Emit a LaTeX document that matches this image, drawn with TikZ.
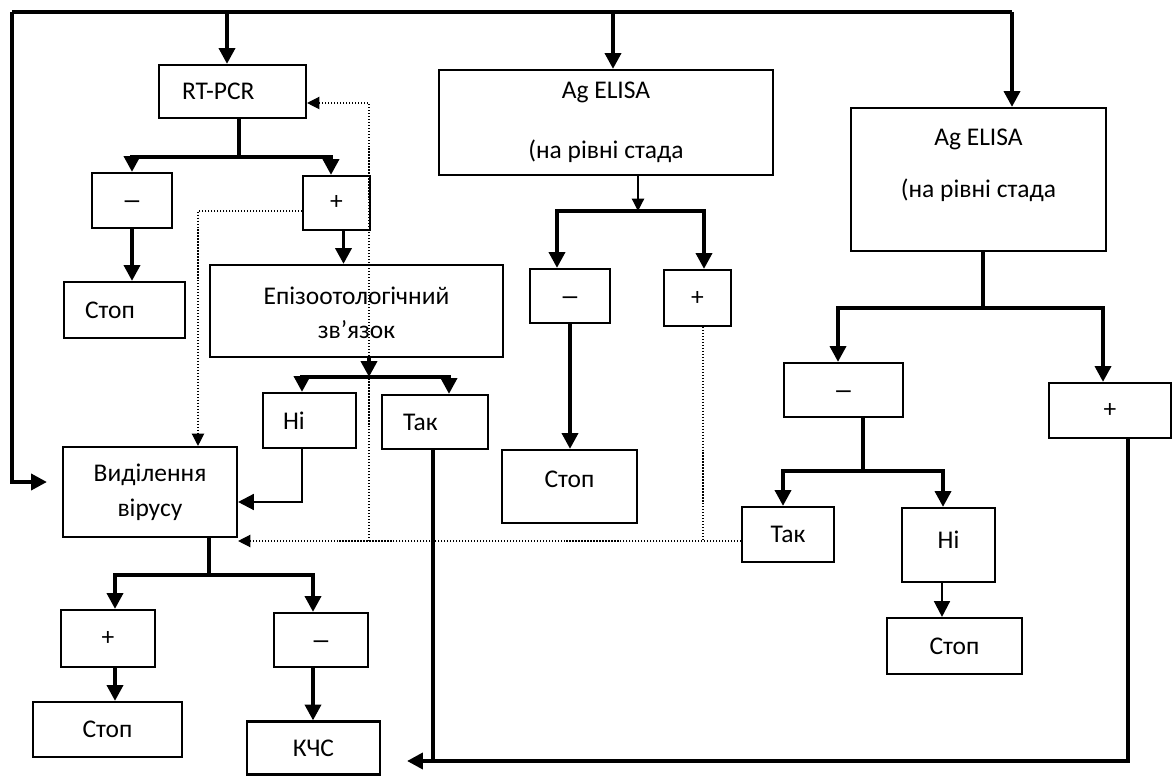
\documentclass[tikz,border=0pt]{standalone}
\usepackage{fontspec}
\usepackage{graphicx}
\setmainfont{Carlito}
\usetikzlibrary{arrows.meta}
\newcommand\liftby[2]{\raisebox{#1}[\height][\depth]{#2}}
\newcommand\wdash{\liftby{-0.1cm}{\scalebox{1.6}[1.1]{–}}}
\tikzset{
  box/.style={draw, line width=1.2pt, rectangle, inner sep=0pt, align=center,
    font=\fontsize{14.5}{17.5}\selectfont},
  lbox/.style={box, align=left, inner xsep=#1},
  conn/.style={line width=2.2pt},
  medconn/.style={line width=1.3pt},
  thinconn/.style={line width=0.7pt},
  arr/.style={-{Triangle[width=9pt,length=9pt]}},
  sarr/.style={-{Triangle[width=7pt,length=7pt]}},
  dots/.style={densely dotted, line width=0.7pt},
}
\begin{document}
\begin{tikzpicture}[x=0.02cm,y=-0.02cm]
\useasboundingbox (0,0) rectangle (1173,776);
% boxes
\node[lbox=0.46cm, text width=2.02cm, minimum height=1.06cm] (rt) at (232.5,91.5) {RT-PCR};
\node[box, minimum width=1.6cm, minimum height=1.1cm] (rm) at (132,200.5) {\wdash};
\node[box, minimum width=1.34cm, minimum height=1.08cm] (rp) at (336.5,203) {+};
\node[lbox=0.42cm, text width=1.58cm, minimum height=1.12cm] (rstop) at (124.5,310) {Стоп};
\node[box, minimum width=5.86cm, minimum height=1.84cm] (epi) at (356.5,311) {\liftby{-0.08cm}{Епізоотологічний}\\[4pt]зв'язок};
\node[lbox=0.4cm, text width=1.06cm, minimum height=1.1cm] (ni1) at (309.5,420.5) {Ні};
\node[lbox=0.42cm, text width=1.28cm, minimum height=1.08cm] (tak1) at (435,422) {Так};
\node[box, minimum width=3.48cm, minimum height=1.8cm] (vir) at (150,492) {Виділення\\[2.5pt]вірусу};
\node[box, minimum width=1.88cm, minimum height=1.14cm] (vp) at (108,638.5) {+};
\node[box, minimum width=1.88cm, minimum height=1.08cm] (vm) at (321,640) {\wdash};
\node[box, minimum width=2.98cm, minimum height=1.1cm] (vstop) at (107.5,729.5) {Стоп};
\node[box, minimum width=2.66cm, minimum height=1.06cm] (kchs) at (313.5,748) {КЧС};
\node[box, minimum width=6.68cm, minimum height=2.1cm] (ag1) at (606,122.5) {Ag ELISA\\[17pt](на рівні стада};
\node[box, minimum width=1.6cm, minimum height=1.08cm] (am) at (570,296) {\wdash};
\node[box, minimum width=1.34cm, minimum height=1.12cm] (ap) at (697.5,298) {+};
\node[box, minimum width=2.7cm, minimum height=1.46cm] (astop) at (569.5,486.5) {\liftby{0.14cm}{Стоп}};
\node[box, minimum width=5.1cm, minimum height=2.86cm] (ag2) at (978.5,179.5) {\liftby{0.28cm}{\begin{tabular}{@{}c@{}}Ag ELISA\\[12pt](на рівні стада\end{tabular}}};
\node[box, minimum width=2.38cm, minimum height=1.08cm] (bm) at (843.5,390) {\wdash};
\node[box, minimum width=2.44cm, minimum height=1.1cm] (bp) at (1110,410.5) {+};
\node[box, minimum width=1.84cm, minimum height=1.1cm] (tak2) at (788,534.5) {Так};
\node[box, minimum width=1.86cm, minimum height=1.48cm] (ni2) at (948.5,545) {\liftby{0.1cm}{Ні}};
\node[box, minimum width=2.7cm, minimum height=1.12cm] (bstop) at (954.5,646) {Стоп};
% top frame
\coordinate (tl) at (12,12);
\coordinate (tr) at (1012,12);
\coordinate (t1) at (227,12);
\coordinate (t2) at (613,12);
\draw[conn] (tl) -- (tr);
\draw[conn,arr,shorten >=0.3cm] (tl) |- ([yshift=0.2cm]vir.west);
\draw[conn,arr] (tr) -- (tr |- ag2.north);
\draw[conn,arr] (t1) -- (t1 |- rt.north);
\draw[conn,arr] (t2) -- (t2 |- ag1.north);
% RT-PCR branch
\coordinate (j1) at (239,157);
\draw[conn] (j1 |- rt.south) -- (j1);
\draw[conn,arr] (j1) -| (rm.north);
\draw[conn,arr] (j1) -| ([xshift=-0.11cm]rp.north);
\draw[conn,arr] (rm.south) -- (rm.south |- rstop.north);
\coordinate (rps) at ([xshift=0.14cm]rp.south);
\draw[conn,arr] (rps) -- (rps |- epi.north);
% epizootological branch
\coordinate (j3) at (369,377);
\draw[conn,arr] (j3 |- epi.south) -- (j3);
\draw[conn,arr] (j3) -| ([xshift=-0.15cm]ni1.north);
\draw[conn,arr] (j3) -| ([xshift=0.28cm]tak1.north);
\coordinate (n1s) at ([xshift=-0.15cm]ni1.south);
\draw[medconn,arr] (n1s) |- ([yshift=-0.2cm]vir.east);
\coordinate (tj) at (433,761);
\draw[conn] (tak1.south -| tj) -- (tj);
% virus isolation branch
\coordinate (j4) at (209,575);
\draw[conn] (j4 |- vir.south) -- (j4);
\draw[conn,arr] (j4) -| ([xshift=0.14cm]vp.north);
\draw[conn,arr] (j4) -| ([xshift=-0.16cm]vm.north);
\coordinate (vps) at ([xshift=0.14cm]vp.south);
\draw[conn,arr] (vps) -- (vps |- vstop.north);
\coordinate (vms) at ([xshift=-0.16cm]vm.south);
\draw[conn,arr] (vms) -- (vms |- kchs.north);
% middle Ag ELISA
\coordinate (j2) at (638,211);
\draw[thinconn,sarr] (j2 |- ag1.south) -- (j2);
\draw[conn,arr] (j2) -| ([xshift=-0.26cm]am.north);
\draw[conn,arr] (j2) -| ([xshift=0.13cm]ap.north);
\draw[conn,arr] (am.south) -- (am.south |- astop.north);
% right Ag ELISA
\coordinate (j5) at (983,308);
\draw[conn] (j5 |- ag2.south) -- (j5);
\draw[conn,arr] (j5) -| ([xshift=-0.11cm]bm.north);
\draw[conn,arr] (j5) -| ([xshift=-0.14cm]bp.north);
\coordinate (j6) at (863,471);
\draw[conn] (j6 |- bm.south) -- (j6);
\draw[conn,arr] (j6) -| ([xshift=-0.1cm]tak2.north);
\draw[conn,arr] (j6) -| ([xshift=-0.11cm]ni2.north);
\coordinate (n2s) at ([xshift=-0.13cm]ni2.south);
\draw[medconn,arr] (n2s) -- (n2s |- bstop.north);
% bottom return line to KChS
\coordinate (bpx) at (1128,761);
\coordinate (kin) at (407,761);
\draw[conn,arr] (bpx |- bp.south) -- (bpx) -- (kin);
% dotted connectors
\draw[dots,sarr] ([yshift=-0.16cm]rp.west) -| ([xshift=0.96cm]vir.north);
\coordinate (dj) at (369,541);
\coordinate (dap) at (703,541);
\draw[dots,sarr] (tak2.west |- dj) -- (vir.east |- dj);
\draw[dots,sarr] (dj) |- ([yshift=-0.23cm]rt.east);
\draw[dots] (dap |- ap.south) -- (dap);
\end{tikzpicture}
\end{document}
